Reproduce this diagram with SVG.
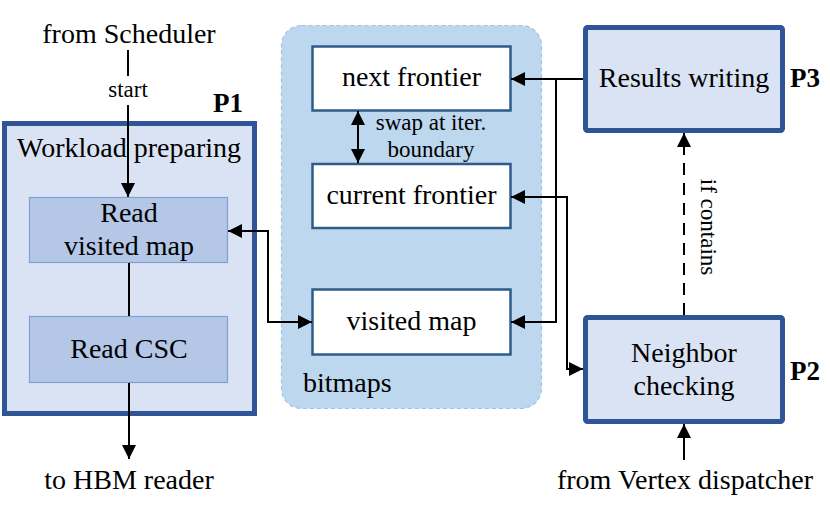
<svg xmlns="http://www.w3.org/2000/svg" width="830" height="514" viewBox="0 0 830 514">
<defs>
<marker id="ah" markerUnits="userSpaceOnUse" markerWidth="16" markerHeight="14" refX="14" refY="7" orient="auto-start-reverse">
<path d="M0,0 L14,7 L0,14 Z" fill="#000"/>
</marker>
</defs>
<style>
text{font-family:"Liberation Serif","Times New Roman",serif;fill:#000;}
.t{font-size:28px;text-anchor:middle;}
.b{font-size:27px;font-weight:bold;}
.s{font-size:23px;text-anchor:middle;}
.proc{fill:#dae3f3;stroke:#2f5597;stroke-width:5;}
.sub{fill:#b4c7e7;stroke:#7f9fd6;stroke-width:1.2;}
.bm{fill:#ffffff;stroke:#2e5c8a;stroke-width:2.5;}
.ln{fill:none;stroke:#000;stroke-width:2;}
</style>
<g id="bitmaps">
<rect x="281.5" y="25.5" width="260" height="383" rx="20" fill="#bdd7ee" stroke="#9dc3e6" stroke-width="1.2" stroke-dasharray="4,3"/>
<text x="303" y="392" style="font-size:28px">bitmaps</text>
</g>
<g id="next-frontier">
<rect class="bm" x="312.5" y="46.5" width="198" height="64"/>
<text class="t" x="411.5" y="86">next frontier</text>
</g>
<g id="current-frontier">
<rect class="bm" x="312.5" y="164" width="198" height="64"/>
<text class="t" x="411.5" y="204">current frontier</text>
</g>
<g id="visited-map">
<rect class="bm" x="312.5" y="289.5" width="198" height="65"/>
<text class="t" x="411.5" y="330">visited map</text>
</g>
<g id="P1">
<rect class="proc" x="4.5" y="123.5" width="250" height="290"/>
<text class="b" x="213" y="112">P1</text>
<text class="t" x="129" y="157">Workload preparing</text>
</g>
<g id="read-visited-map">
<rect class="sub" x="29.5" y="197.5" width="198" height="65"/>
<text class="t" x="129" y="222">Read</text>
<text class="t" x="129" y="255">visited map</text>
</g>
<g id="read-csc">
<rect class="sub" x="29.5" y="316.5" width="198" height="66"/>
<text class="t" x="129" y="358">Read CSC</text>
</g>
<g id="results-writing">
<rect class="proc" x="585.5" y="27.5" width="197" height="103" rx="2"/>
<text class="t" x="684" y="87">Results writing</text>
<text class="b" x="790" y="87">P3</text>
</g>
<g id="neighbor-checking">
<rect class="proc" x="585.5" y="317.5" width="197" height="104" rx="2"/>
<text class="t" x="684" y="362">Neighbor</text>
<text class="t" x="684" y="395">checking</text>
<text class="b" x="790" y="380">P2</text>
</g>
<g id="labels">
<text class="t" x="129" y="43">from Scheduler</text>
<text class="s" x="128" y="97">start</text>
<text class="t" x="129" y="489">to HBM reader</text>
<text class="t" x="685" y="489">from Vertex dispatcher</text>
<text class="s" x="431" y="130">swap at iter.</text>
<text class="s" x="431" y="157">boundary</text>
<text class="s" transform="translate(701,227) rotate(90)">if contains</text>
</g>
<g id="connectors">
<line class="ln" x1="128" y1="50" x2="128" y2="76"/>
<line class="ln" x1="128" y1="105" x2="128" y2="197" marker-end="url(#ah)"/>
<line class="ln" x1="129" y1="263" x2="129" y2="316"/>
<line class="ln" x1="129" y1="383" x2="129" y2="459" marker-end="url(#ah)"/>
<line class="ln" x1="358" y1="111" x2="358" y2="163" marker-start="url(#ah)" marker-end="url(#ah)"/>
<polyline class="ln" points="228,231 268,231 268,322 312,322" marker-start="url(#ah)" marker-end="url(#ah)"/>
<line class="ln" x1="583" y1="79" x2="511" y2="79" marker-end="url(#ah)"/>
<polyline class="ln" points="556,79 556,322 511,322" marker-end="url(#ah)"/>
<polyline class="ln" points="511,197 567,197 567,369 583,369" marker-start="url(#ah)" marker-end="url(#ah)"/>
<line class="ln" x1="684" y1="315" x2="684" y2="133" stroke-dasharray="12,8" marker-end="url(#ah)"/>
<line class="ln" x1="684" y1="460" x2="684" y2="424" marker-end="url(#ah)"/>
</g>
</svg>
